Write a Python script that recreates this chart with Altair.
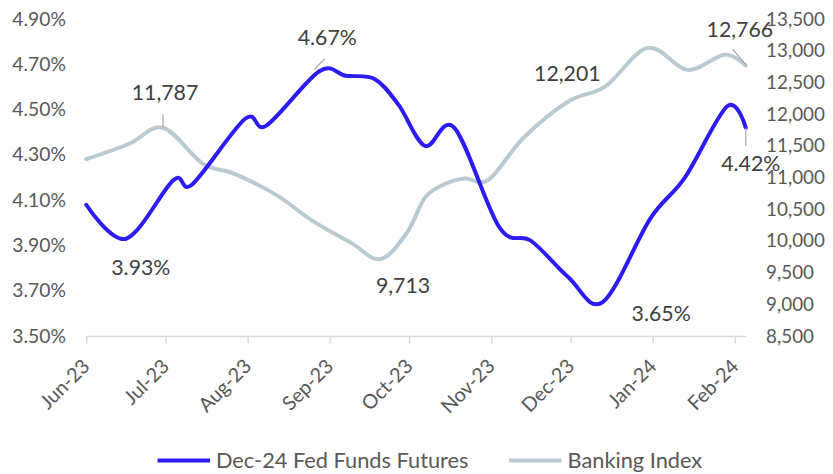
import altair as alt
import pandas as pd

SERIES = ["Dec-24 Fed Funds Futures", "Banking Index"]
COLORS = ["#2B1BF5", "#BACAD3"]

fed_dates = ["2023-06-01", "2023-06-16", "2023-07-04", "2023-07-11", "2023-07-31",
             "2023-08-08", "2023-08-28", "2023-09-07", "2023-09-18", "2023-09-27",
             "2023-10-07", "2023-10-18", "2023-11-04", "2023-11-16", "2023-11-30",
             "2023-12-13", "2023-12-31", "2024-01-13", "2024-01-29", "2024-02-05"]
fed_values = [4.08, 3.93, 4.19, 4.17, 4.46, 4.43, 4.67, 4.65, 4.635, 4.52,
              4.34, 4.42, 3.98, 3.92, 3.76, 3.65, 4.02, 4.20, 4.515, 4.42]

bank_dates = ["2023-06-01", "2023-06-17", "2023-06-30", "2023-07-15", "2023-07-27",
              "2023-08-12", "2023-08-25", "2023-09-09", "2023-09-20", "2023-09-30",
              "2023-10-07", "2023-10-15", "2023-10-22", "2023-10-31", "2023-11-13",
              "2023-11-30", "2023-12-14", "2023-12-30", "2024-01-14", "2024-01-28",
              "2024-02-05"]
bank_values = [11290, 11530, 11787, 11220, 11060, 10720, 10330, 9970, 9713, 10125,
               10690, 10910, 10985, 10970, 11625, 12201, 12440, 13047, 12700, 12940,
               12766]

left_ticks = [3.5, 3.7, 3.9, 4.1, 4.3, 4.5, 4.7, 4.9]
right_ticks = [8500, 9000, 9500, 10000, 10500, 11000, 11500, 12000, 12500, 13000, 13500]

# annotations: text, series, anchor date, anchor value, dx, dy
ann_text = ["4.67%", "3.93%", "4.42%", "3.65%", "11,787", "9,713", "12,201", "12,766"]
ann_series = [0, 0, 0, 0, 1, 1, 1, 1]
ann_dates = ["2023-08-28", "2023-06-16", "2024-02-05", "2023-12-13",
             "2023-06-30", "2023-09-20", "2023-11-30", "2024-02-05"]
ann_values = [4.67, 3.93, 4.42, 3.65, 11787, 9713, 12201, 12766]
ann_dx = [8, 15, 5, 59, 2, 23, -1, -6]
ann_dy = [-32, 31, 38, 13, -34, 28, -27, -35]

# leader lines: series, start date, start value, end date, end value
lead_series = [0, 0, 1, 1]
lead_d1 = ["2023-08-26", "2024-02-05", "2023-06-30", "2024-02-05"]
lead_v1 = [4.677, 4.42, 11800, 12780]
lead_d2 = ["2023-08-30", "2024-02-05", "2023-06-30", "2024-01-31"]
lead_v2 = [4.725, 4.34, 12000, 13030]

FONT = "Lato"
LABEL_COLOR = "#595959"
TICK_FS = 19.5

df = pd.DataFrame({
    "date": fed_dates + bank_dates,
    "value": fed_values + bank_values,
    "series": [SERIES[0]] * len(fed_dates) + [SERIES[1]] * len(bank_dates),
})

x_scale = alt.Scale(type="utc", domain=[alt.DateTime(year=2023, month=6, date=1, utc=True),
                                        alt.DateTime(year=2024, month=2, date=5, utc=True)])
left_scale = alt.Scale(domain=[3.5, 4.9], nice=False, zero=False)
right_scale = alt.Scale(domain=[8500, 13500], nice=False, zero=False)
scales = [left_scale, right_scale]

x_axis = alt.Axis(title=None, format="%b-%y", tickCount={"interval": "month", "step": 1},
                  labelAngle=-45, labelAlign="right", labelBaseline="middle",
                  labelFont=FONT, labelFontSize=20, labelColor=LABEL_COLOR,
                  labelPadding=20, labelFlush=False, labelOverlap=False,
                  domainColor="#D9D9D9", domainWidth=1.5, tickColor="#D9D9D9",
                  tickWidth=1.5, tickSize=7, grid=False)

color = alt.Color("series:N", scale=alt.Scale(domain=SERIES, range=COLORS),
                  legend=alt.Legend(title=None, orient="none", legendX=70, legendY=417,
                                    direction="horizontal", symbolType="stroke",
                                    symbolSize=2809, symbolStrokeWidth=4,
                                    labelFont=FONT, labelFontSize=22, labelColor=LABEL_COLOR,
                                    labelOffset=4, columnPadding=32, labelLimit=400))

base = alt.Chart(df)

fed_line = base.transform_filter(alt.datum.series == SERIES[0]).mark_line(
    interpolate="cardinal", strokeWidth=4, strokeCap="round").encode(
    x=alt.X("date:T", scale=x_scale, axis=x_axis),
    y=alt.Y("value:Q", scale=left_scale,
            axis=alt.Axis(title=None, orient="left", values=left_ticks,
                          labelExpr="format(datum.value, '.2f') + '%'",
                          domain=False, ticks=False, grid=False, labelPadding=21,
                          labelFont=FONT, labelFontSize=TICK_FS, labelColor=LABEL_COLOR)),
    color=color,
)

bank_line = base.transform_filter(alt.datum.series == SERIES[1]).mark_line(
    interpolate="cardinal", strokeWidth=4, strokeCap="round").encode(
    x=alt.X("date:T", scale=x_scale, axis=x_axis),
    y=alt.Y("value:Q", scale=right_scale,
            axis=alt.Axis(title=None, orient="right", values=right_ticks,
                          labelExpr="format(datum.value, ',.0f')",
                          domain=False, ticks=False, grid=False, labelPadding=20,
                          labelFont=FONT, labelFontSize=19, labelColor=LABEL_COLOR)),
    color=color,
)

layers = [bank_line, fed_line]

for i in range(len(lead_series)):
    ldf = pd.DataFrame({"d1": [lead_d1[i]], "v1": [lead_v1[i]],
                        "d2": [lead_d2[i]], "v2": [lead_v2[i]]})
    layers.append(alt.Chart(ldf).mark_rule(color="#A6A6A6", strokeWidth=1.2).encode(
        x=alt.X("d1:T", scale=x_scale, axis=x_axis),
        x2="d2:T",
        y=alt.Y("v1:Q", scale=scales[lead_series[i]], axis=None),
        y2="v2:Q",
    ))

for i in range(len(ann_text)):
    adf = pd.DataFrame({"date": [ann_dates[i]], "value": [ann_values[i]], "label": [ann_text[i]]})
    layers.append(alt.Chart(adf).mark_text(
        font=FONT, fontSize=21.5, color="#404040", align="center", baseline="middle",
        dx=ann_dx[i], dy=ann_dy[i]).encode(
        x=alt.X("date:T", scale=x_scale, axis=x_axis),
        y=alt.Y("value:Q", scale=scales[ann_series[i]], axis=None),
        text="label:N",
    ))

chart = alt.layer(*layers).resolve_scale(y="independent").properties(
    width=666, height=320,
    autosize=alt.AutoSizeParams(type="none"),
    padding={"left": 79, "top": 9, "right": 80, "bottom": 136},
).configure_view(stroke=None)

chart.save("out.html", embed_options={"renderer": "svg", "actions": False})
